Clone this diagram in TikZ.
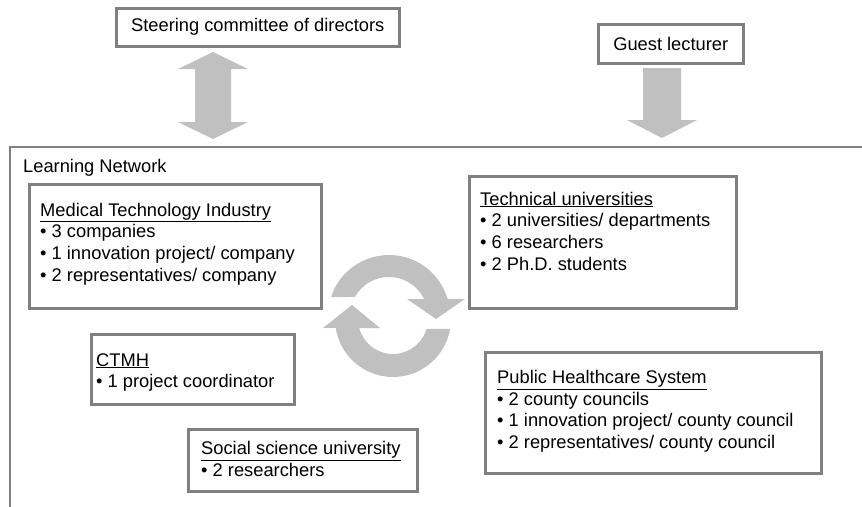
\documentclass[tikz,border=0pt]{standalone}
\usepackage{fontspec}
\setmainfont{Liberation Sans}
\definecolor{bordergray}{RGB}{128,128,128}
\definecolor{arrowgray}{RGB}{192,192,192}
\begin{document}
\begin{tikzpicture}[x=1pt,y=-1pt,
  box/.style={draw=bordergray, line width=2.5pt, inner sep=0pt, anchor=north west, fill=white},
  txt/.style={font=\fontsize{18.3}{21.7}\selectfont, align=left, inner sep=0pt, anchor=base west},
  boxtxt/.style={font=\fontsize{18.3}{21.7}\selectfont},
  bigarrow/.style={fill=arrowgray, draw=none}]
\useasboundingbox (0,0) rectangle (862,506);
\clip (0,0) rectangle (862,506);
% outer learning network frame
\draw[bordergray, line width=2.5pt] (10,530) |- (880,147);
\node[txt] (lntitle) at (23,172) {Learning Network};
% top boxes
\node[box, boxtxt, minimum width=283pt, minimum height=38pt] (steer) at (115,7) {Steering committee of directors};
\node[box, boxtxt, minimum width=145pt, minimum height=39pt] (guest) at (597,23) {Guest lecturer};
% double arrow
\fill[arrowgray] (213,52) -- (248,69) -- (231,69) -- (231,122) -- (248,122) -- (213,139)
  -- (178,122) -- (195,122) -- (195,69) -- (178,69) -- cycle;
% down arrow
\fill[arrowgray] (643,68) -- (681,68) -- (681,120) -- (697,120) -- (662,138) -- (627,120) -- (643,120) -- cycle;
% inner boxes
\node[box, minimum width=292pt, minimum height=124pt] (mti) at (28,183) {};
\node[txt] (mtitext) at (40,281.1) {\underline{Medical Technology Industry}\\• 3 companies\\• 1 innovation project/ company\\• 2 representatives/ company};
\node[box, minimum width=267pt, minimum height=132pt] (tu) at (468,175) {};
\node[txt] (tutext) at (480,270.1) {\underline{Technical universities}\\• 2 universities/ departments\\• 6 researchers\\• 2 Ph.D. students};
\node[box, minimum width=203pt, minimum height=70pt] (ctmh) at (90,333) {};
\node[txt] (ctmhtext) at (96,387.7) {\underline{CTMH}\\• 1 project coordinator};
\node[box, minimum width=229pt, minimum height=62pt] (soc) at (187,428) {};
\node[txt] (soctext) at (201,476.5) {\underline{Social science university}\\• 2 researchers};
\node[box, minimum width=336pt, minimum height=121pt] (phs) at (484,351) {};
\node[txt] (phstext) at (497,448.6) {\underline{Public Healthcare System}\\• 2 county councils\\• 1 innovation project/ county council\\• 2 representatives/ county council};
% cycle arrows
\begin{scope}[shift={(389,316)}]
\fill[arrowgray] (198.1:61) arc[start angle=198.1, end angle=343.8, radius=61]
  -- (76,-17) -- (47,3) -- (18,-17) -- (334.2:39)
  arc[start angle=334.2, end angle=209.2, radius=39] -- cycle;
\end{scope}
\begin{scope}[shift={(393,319)}]
\fill[arrowgray] (9.9:58) arc[start angle=9.9, end angle=171.1, radius=58]
  -- (-70,9) -- (-41,-14) -- (-13,9) -- (165.1:35)
  arc[start angle=165.1, end angle=16.6, radius=35] -- cycle;
\end{scope}
\end{tikzpicture}
\end{document}
